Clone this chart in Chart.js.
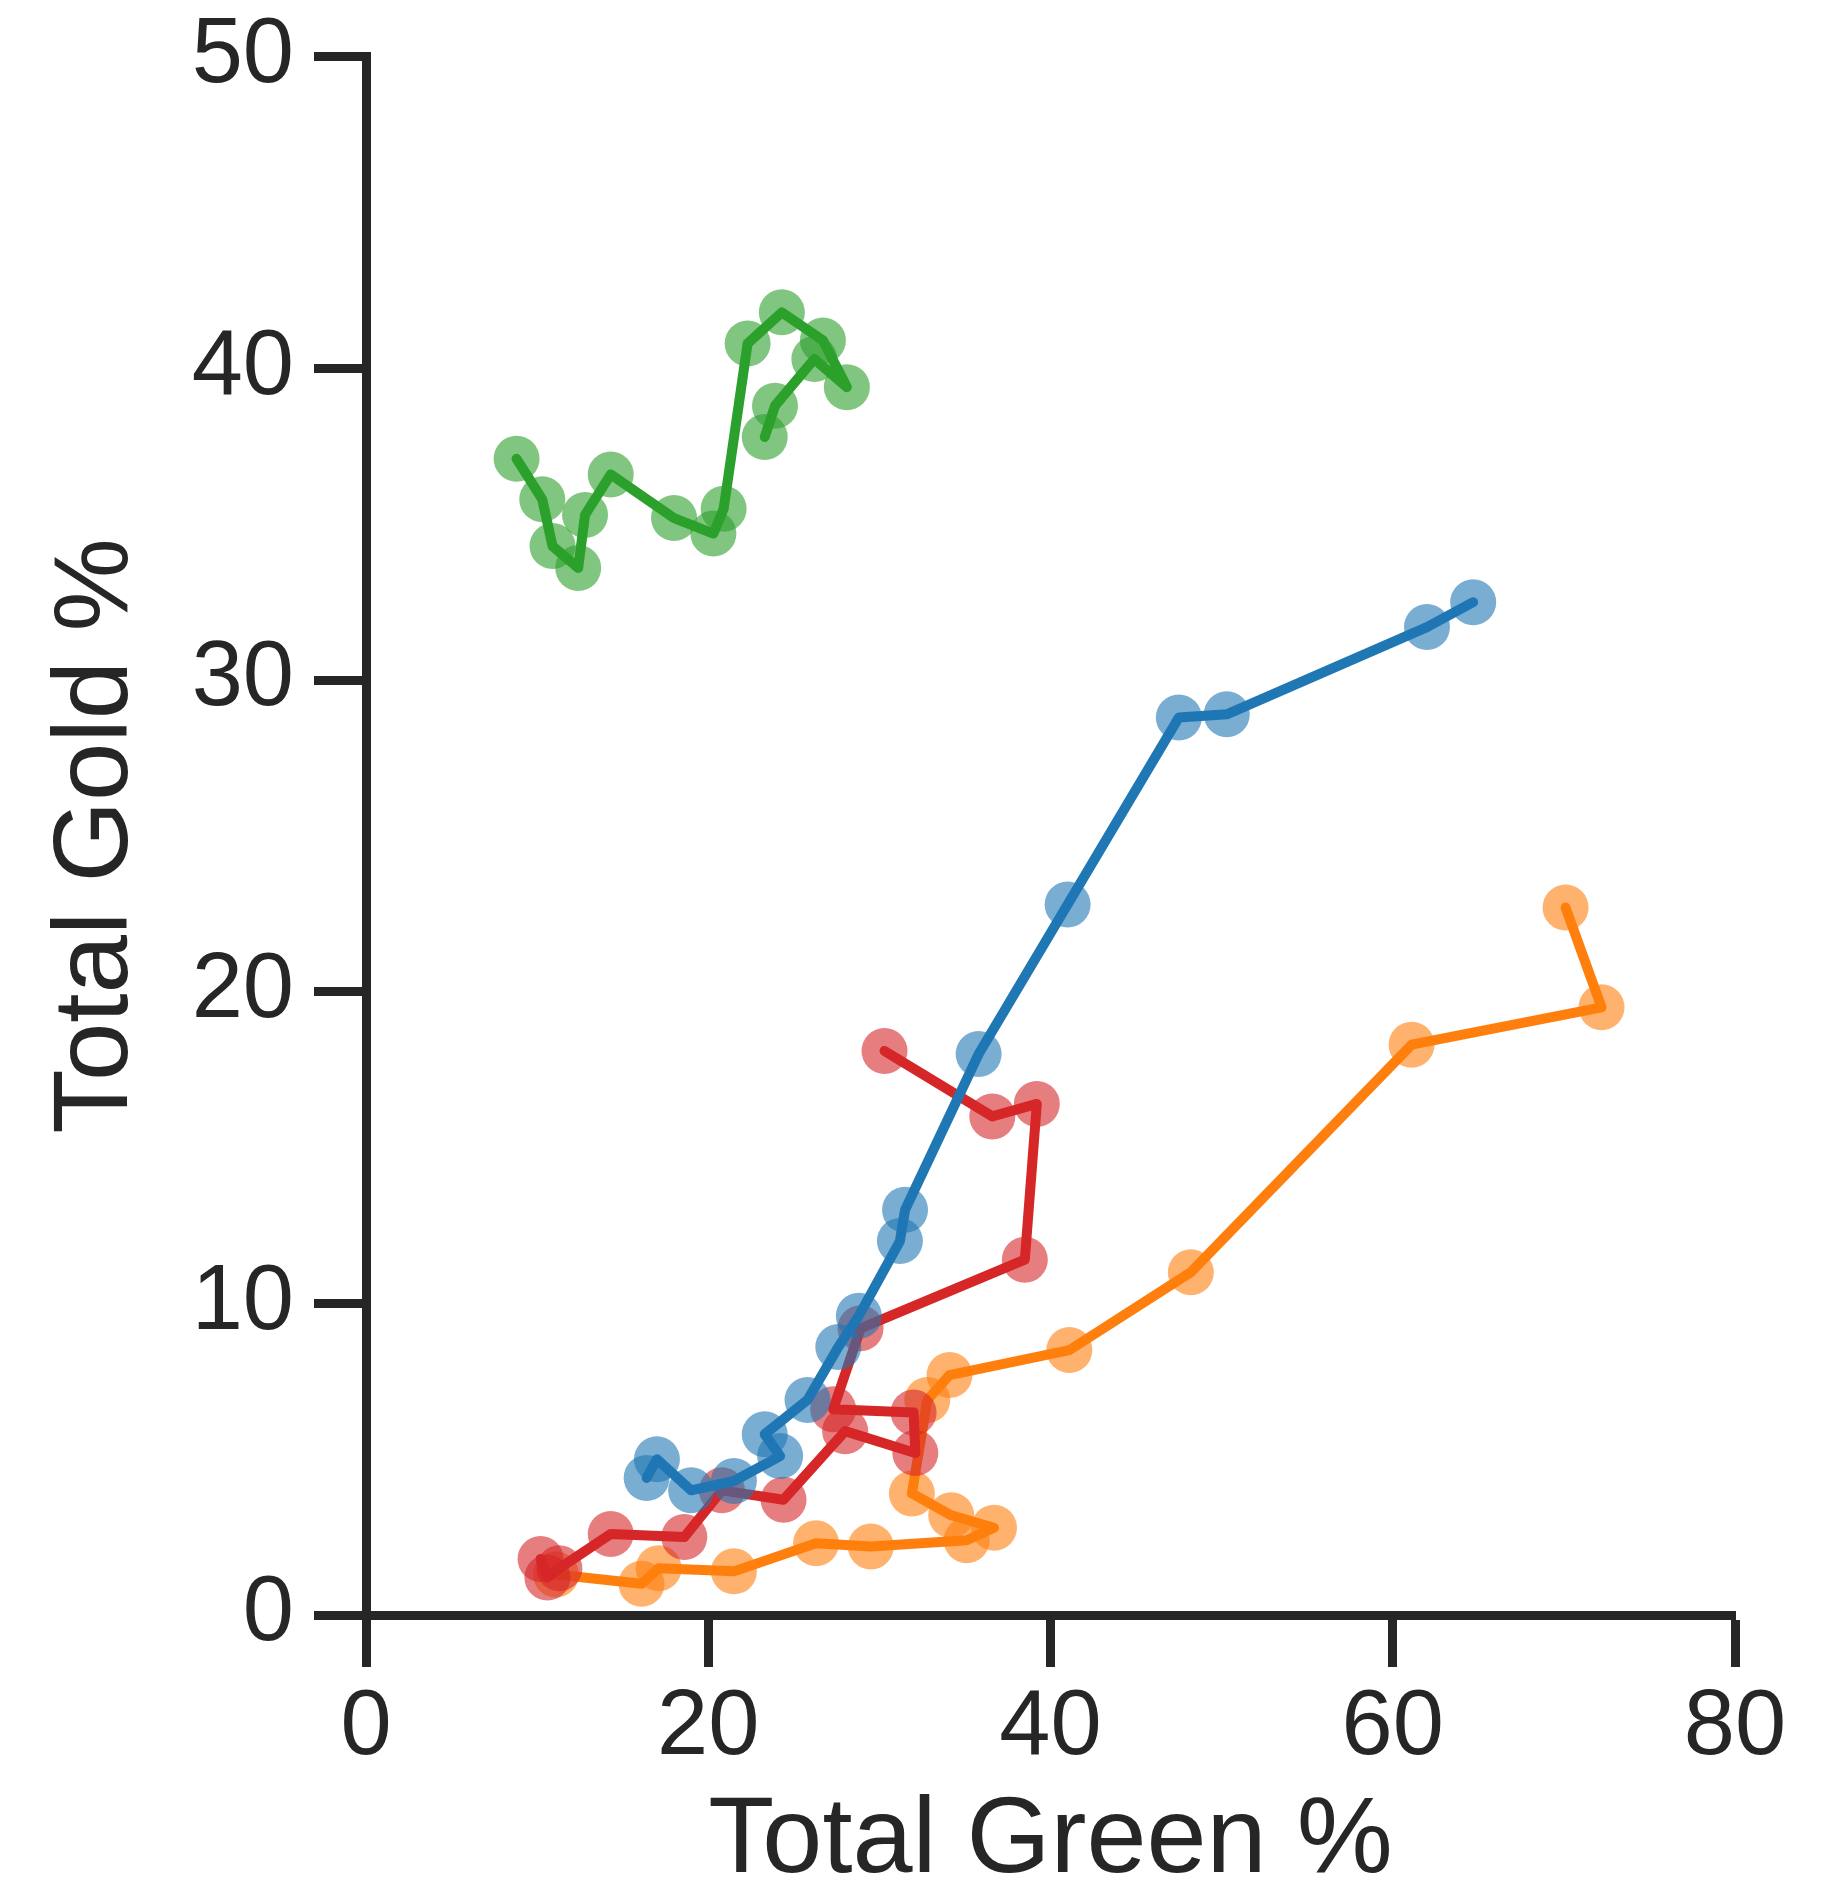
<!DOCTYPE html>
<html>
<head>
<meta charset="utf-8">
<script src="https://cdn.jsdelivr.net/npm/chart.js@4"></script>
<style>
  html, body { margin: 0; padding: 0; background: #ffffff; }
  canvas { display: block; }
</style>
</head>
<body>
<canvas id="gold-green" width="1843" height="1896"></canvas>
<script>
// paths of gold % against green %, one per series
const blueX = [16.4, 17.0, 19.0, 21.5, 24.2, 23.3, 25.8, 27.6, 28.8, 31.2, 31.5, 35.8, 41.0, 47.5, 50.3, 62.0, 64.7];
const blueY = [4.4, 5.0, 4.0, 4.3, 5.1, 5.8, 6.9, 8.6, 9.6, 12.0, 13.0, 18.0, 22.8, 28.8, 28.9, 31.7, 32.5];

const orangeX = [11.1, 16.1, 17.1, 21.5, 26.3, 29.5, 35.1, 36.7, 34.2, 31.9, 32.8, 34.1, 41.1, 48.2, 61.1, 72.2, 70.1];
const orangeY = [1.3, 1.0, 1.5, 1.4, 2.3, 2.2, 2.4, 2.8, 3.2, 3.9, 6.9, 7.7, 8.5, 11.0, 18.3, 19.5, 22.7];

const greenX = [8.8, 10.3, 10.9, 12.4, 12.8, 14.3, 18.0, 20.3, 20.9, 22.3, 24.3, 26.7, 28.1, 26.2, 23.9, 23.3];
const greenY = [37.1, 35.8, 34.3, 33.6, 35.3, 36.6, 35.2, 34.7, 35.5, 40.8, 41.8, 40.9, 39.4, 40.3, 38.8, 37.8];

const redX = [10.2, 10.6, 11.3, 14.3, 18.6, 20.8, 24.4, 28.0, 32.1, 32.0, 27.3, 28.9, 38.5, 39.2, 36.6, 30.3];
const redY = [1.8, 1.2, 1.5, 2.6, 2.5, 4.0, 3.7, 5.9, 5.2, 6.5, 6.6, 9.2, 11.4, 16.4, 16.0, 18.1];

const xTicks = [0, 20, 40, 60, 80];
const yTicks = [0, 10, 20, 30, 40, 50];

const ink = '#262626';
const fontFamily = "'Liberation Sans', Arial, Helvetica, sans-serif";

function toPoints(xs, ys) {
    return xs.map((x, i) => ({ x: x, y: ys[i] }));
}

function series(xs, ys, rgb) {
    return {
        data: toPoints(xs, ys),
        showLine: true,
        borderColor: 'rgb(' + rgb + ')',
        borderWidth: 10,
        borderJoinStyle: 'round',
        borderCapStyle: 'round',
        backgroundColor: 'rgba(' + rgb + ',0.6)',
        pointRadius: 23,
        pointHoverRadius: 23,
        pointBorderWidth: 0,
        clip: false
    };
}

window.onload = function () {
    const ctx = document.getElementById('gold-green').getContext('2d');
    new Chart(ctx, {
        type: 'scatter',
        data: {
            datasets: [
                series(blueX, blueY, '31,119,180'),
                series(redX, redY, '214,39,40'),
                series(orangeX, orangeY, '255,127,14'),
                series(greenX, greenY, '44,160,44')
            ]
        },
        options: {
            responsive: false,
            animation: false,
            layout: {
                padding: { top: 42, right: 108, bottom: 0, left: 0 }
            },
            plugins: {
                legend: { display: false },
                tooltip: { enabled: false }
            },
            scales: {
                x: {
                    type: 'linear',
                    min: xTicks[0],
                    max: xTicks[xTicks.length - 1],
                    afterBuildTicks: axis => { axis.ticks = xTicks.map(v => ({ value: v })); },
                    afterFit: axis => { axis.height = 281; },
                    ticks: {
                        color: ink,
                        padding: 6,
                        font: { family: fontFamily, size: 92 }
                    },
                    grid: {
                        drawOnChartArea: false,
                        tickLength: 52,
                        tickWidth: 9,
                        tickColor: ink
                    },
                    border: { color: ink, width: 9 },
                    title: {
                        display: true,
                        text: 'Total Green %',
                        color: ink,
                        padding: 0,
                        font: { family: fontFamily, size: 108, lineHeight: 1.0 }
                    }
                },
                y: {
                    type: 'linear',
                    min: yTicks[0],
                    max: yTicks[yTicks.length - 1],
                    afterBuildTicks: axis => { axis.ticks = yTicks.map(v => ({ value: v })); },
                    afterFit: axis => { axis.width = 366; },
                    ticks: {
                        color: ink,
                        padding: 20,
                        font: { family: fontFamily, size: 92, lineHeight: 0.8 }
                    },
                    grid: {
                        drawOnChartArea: false,
                        tickLength: 52,
                        tickWidth: 9,
                        tickColor: ink
                    },
                    border: { color: ink, width: 9 },
                    title: {
                        display: true,
                        text: 'Total Gold %',
                        color: ink,
                        padding: { top: 35, bottom: 0 },
                        font: { family: fontFamily, size: 105 }
                    }
                }
            }
        }
    });
};
</script>
</body>
</html>
